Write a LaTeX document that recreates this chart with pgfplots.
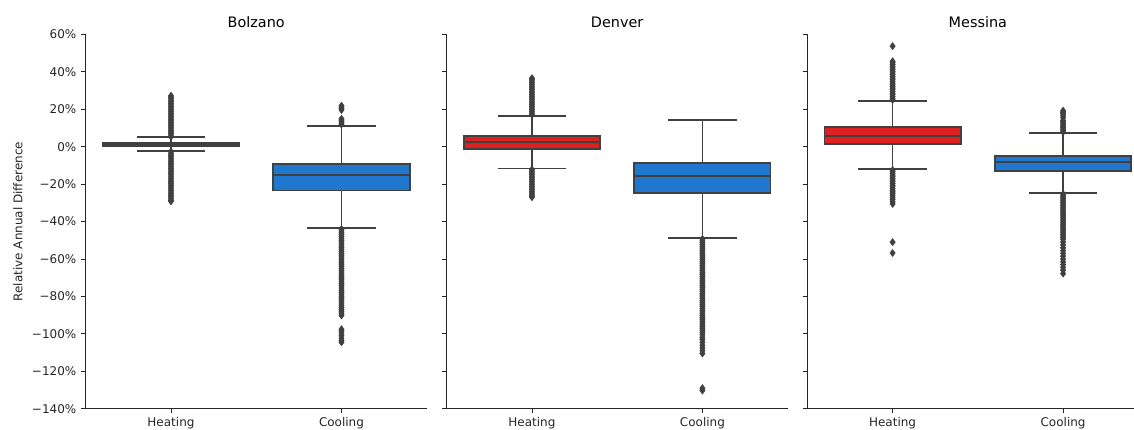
\documentclass[border=0pt]{standalone}
\usepackage{pgfplots}
\pgfplotsset{compat=1.18}
\usepgfplotslibrary{statistics}
\usepackage{fontspec}
\setmainfont{DejaVu Sans}
\definecolor{dg}{RGB}{64,64,64}
\definecolor{hred}{RGB}{223,32,32}
\definecolor{cblue}{RGB}{31,120,205}
\pgfplotsset{
  every axis title shift=0pt,
  boxplot/every whisker/.style={draw=dg, line width=1.3pt},
  boxplot/every median/.style={draw=dg, line width=1.3pt},
  boxplot/every box/.style={draw=dg, line width=1.3pt},
  facet/.style={
    scale only axis, width=255.75pt, height=280.8pt,
    anchor=south west,
    xmin=-0.5,xmax=1.5,ymin=-140,ymax=60,
    axis lines*=left,
    axis line style={black!85, line width=0.6pt},
    xtick={0,1}, xticklabels={Heating,Cooling},
    ytick={-140,-120,...,60},
    tick align=outside,
    major tick length=3.5pt,
    tick style={black!85, line width=0.6pt},
    ticklabel style={font=\fontsize{9}{10.8}\selectfont, text=black!85},
    xticklabel style={anchor=base, yshift=-10pt},
    title style={font=\fontsize{10.8}{13}\selectfont, at={(0.5,1)}, anchor=base, yshift=5.5pt},
    clip=false,
  },
  bx/.style={boxplot prepared={#1, draw direction=y, box extend=0.8, whisker extend=0.4,
      every whisker/.style={draw=dg, line width=1.3pt},
      every median/.style={draw=dg, line width=1.3pt},
      every box/.style={draw=dg, line width=1.3pt}}, draw=dg, line width=1.3pt, solid},
  fl/.style={only marks, mark=diamond*, mark size=2.7pt, color=dg, mark options={line width=0.3pt, draw=dg, fill=dg}},
}
\begin{document}
\begin{tikzpicture}
% ---------------- Bolzano ----------------
\begin{axis}[facet, at={(64.3pt,15.2pt)}, title={Bolzano},
  yticklabels={−140\%,−120\%,−100\%,−80\%,−60\%,−40\%,−20\%,0\%,20\%,40\%,60\%}]
\addplot[fl] coordinates {(0,5.3)(0,6.1)(0,7.0)(0,7.8)(0,8.7)(0,9.5)(0,10.4)(0,11.2)(0,12.1)(0,12.9)(0,13.8)(0,14.6)(0,15.5)(0,16.3)(0,17.2)(0,18.0)(0,18.9)(0,19.7)(0,20.6)(0,21.4)(0,22.3)(0,23.1)(0,24.0)(0,24.8)(0,25.7)(0,26.5)(0,27.2)
 (0,-2.6)(0,-3.5)(0,-4.4)(0,-5.3)(0,-6.2)(0,-7.1)(0,-8.0)(0,-8.9)(0,-9.8)(0,-10.7)(0,-11.6)(0,-12.5)(0,-13.4)(0,-14.3)(0,-15.2)(0,-16.1)(0,-17.0)(0,-17.9)(0,-18.8)(0,-19.7)(0,-20.6)(0,-21.5)(0,-22.4)(0,-23.3)(0,-24.2)(0,-25.1)(0,-26.0)(0,-26.9)(0,-27.8)(0,-28.7)(0,-29.2)};
\addplot[fl] coordinates {(1,11.8)(1,12.6)(1,13.4)(1,14.2)(1,14.9)(1,19.6)(1,20.4)(1,21.2)(1,21.9)
 (1,-44.0)(1,-45.0)(1,-46.0)(1,-47.0)(1,-48.0)(1,-49.0)(1,-50.0)(1,-51.0)(1,-52.0)(1,-53.0)(1,-54.0)(1,-55.0)(1,-56.0)(1,-57.0)(1,-58.0)(1,-59.0)(1,-60.0)(1,-61.0)(1,-62.0)(1,-63.0)(1,-64.0)(1,-65.0)(1,-66.0)(1,-67.0)(1,-68.0)(1,-69.0)(1,-70.0)(1,-71.0)(1,-72.0)(1,-73.0)(1,-74.0)(1,-75.0)(1,-76.0)(1,-77.0)(1,-78.0)(1,-79.0)(1,-80.0)(1,-81.0)(1,-82.0)(1,-83.0)(1,-84.0)(1,-85.0)(1,-86.0)(1,-87.0)(1,-88.0)(1,-89.0)(1,-90.2)
 (1,-97.5)(1,-98.5)(1,-99.6)(1,-101.0)(1,-102.3)(1,-103.5)(1,-104.5)};
\addplot[bx={draw position=0, lower whisker=-2.2, lower quartile=0.1, median=1.0, upper quartile=1.9, upper whisker=5.0}, fill=hred] coordinates {};
\addplot[bx={draw position=1, lower whisker=-43.5, lower quartile=-23.4, median=-15.2, upper quartile=-9.3, upper whisker=11.0}, fill=cblue] coordinates {};
\end{axis}
% ---------------- Denver ----------------
\begin{axis}[facet, at={(335.0pt,15.2pt)}, title={Denver}, yticklabel=\empty]
\addplot[fl] coordinates {(0,17.0)(0,17.9)(0,18.8)(0,19.7)(0,20.6)(0,21.5)(0,22.4)(0,23.3)(0,24.2)(0,25.1)(0,26.0)(0,26.9)(0,27.8)(0,28.7)(0,29.6)(0,30.5)(0,31.4)(0,32.3)(0,33.2)(0,34.1)(0,35.0)(0,35.9)(0,36.6)
 (0,-12.2)(0,-13.1)(0,-14.0)(0,-14.9)(0,-15.8)(0,-16.7)(0,-17.6)(0,-18.5)(0,-19.4)(0,-20.3)(0,-21.2)(0,-22.1)(0,-23.0)(0,-23.9)(0,-24.8)(0,-25.7)(0,-26.5)(0,-27.0)};
\addplot[fl] coordinates {(1,-49.3)(1,-50.3)(1,-51.3)(1,-52.3)(1,-53.3)(1,-54.3)(1,-55.3)(1,-56.3)(1,-57.3)(1,-58.3)(1,-59.3)(1,-60.3)(1,-61.3)(1,-62.3)(1,-63.3)(1,-64.3)(1,-65.3)(1,-66.3)(1,-67.3)(1,-68.3)(1,-69.3)(1,-70.3)(1,-71.3)(1,-72.3)(1,-73.3)(1,-74.3)(1,-75.3)(1,-76.3)(1,-77.3)(1,-78.3)(1,-79.3)(1,-80.3)(1,-81.3)(1,-82.3)(1,-83.3)(1,-84.3)(1,-85.3)(1,-86.3)(1,-87.3)(1,-88.3)(1,-89.3)(1,-90.3)(1,-91.3)(1,-92.3)(1,-93.3)(1,-94.3)(1,-95.3)(1,-96.3)(1,-97.3)(1,-98.3)(1,-99.3)(1,-100.5)(1,-101.8)(1,-103.0)(1,-104.5)(1,-106.0)(1,-107.5)(1,-109.0)(1,-110.5)
 (1,-129.0)(1,-130.3)};
\addplot[bx={draw position=0, lower whisker=-11.6, lower quartile=-1.3, median=2.3, upper quartile=5.8, upper whisker=16.5}, fill=hred] coordinates {};
\addplot[bx={draw position=1, lower whisker=-48.8, lower quartile=-24.8, median=-15.7, upper quartile=-8.9, upper whisker=14.4}, fill=cblue] coordinates {};
\end{axis}
% ---------------- Messina ----------------
\begin{axis}[facet, at={(605.5pt,15.2pt)}, title={Messina}, yticklabel=\empty]
\addplot[fl] coordinates {(0,25.0)(0,25.9)(0,26.8)(0,27.7)(0,28.6)(0,29.5)(0,30.4)(0,31.3)(0,32.2)(0,33.1)(0,34.0)(0,34.9)(0,35.8)(0,36.7)(0,37.6)(0,38.5)(0,39.4)(0,40.3)(0,41.2)(0,42.1)(0,43.0)(0,43.9)(0,44.8)(0,45.6)(0,53.7)
 (0,-12.5)(0,-13.4)(0,-14.3)(0,-15.2)(0,-16.1)(0,-17.0)(0,-17.9)(0,-18.8)(0,-19.7)(0,-20.6)(0,-21.5)(0,-22.4)(0,-23.3)(0,-24.2)(0,-25.1)(0,-26.0)(0,-27.0)(0,-28.2)(0,-29.4)(0,-30.6)(0,-51.0)(0,-56.8)};
\addplot[fl] coordinates {(1,7.8)(1,8.6)(1,9.4)(1,10.2)(1,11.0)(1,11.8)(1,12.6)(1,13.4)(1,14.0)(1,15.5)(1,16.6)(1,17.6)(1,18.4)(1,19.2)
 (1,-25.2)(1,-26.1)(1,-27.0)(1,-27.9)(1,-28.8)(1,-29.7)(1,-30.6)(1,-31.5)(1,-32.4)(1,-33.3)(1,-34.2)(1,-35.1)(1,-36.0)(1,-36.9)(1,-37.8)(1,-38.7)(1,-39.6)(1,-40.5)(1,-41.4)(1,-42.3)(1,-43.2)(1,-44.1)(1,-45.0)(1,-45.9)(1,-46.8)(1,-47.7)(1,-48.6)(1,-49.5)(1,-51.0)(1,-52.5)(1,-54.0)(1,-55.5)(1,-57.0)(1,-58.5)(1,-60.0)(1,-61.5)(1,-63.0)(1,-64.5)(1,-66.0)(1,-67.8)};
\addplot[bx={draw position=0, lower whisker=-12.0, lower quartile=1.4, median=5.8, upper quartile=10.6, upper whisker=24.4}, fill=hred] coordinates {};
\addplot[bx={draw position=1, lower whisker=-24.8, lower quartile=-13.0, median=-8.2, upper quartile=-5.0, upper whisker=7.3}, fill=cblue] coordinates {};
\end{axis}
\node[rotate=90, font=\fontsize{9}{10.8}\selectfont, text=black!85] at (13.5pt,155.6pt) {Relative Annual Difference};
\pgfresetboundingbox
\useasboundingbox (0,0) rectangle (850.5pt,321.75pt);
\end{tikzpicture}
\end{document}
